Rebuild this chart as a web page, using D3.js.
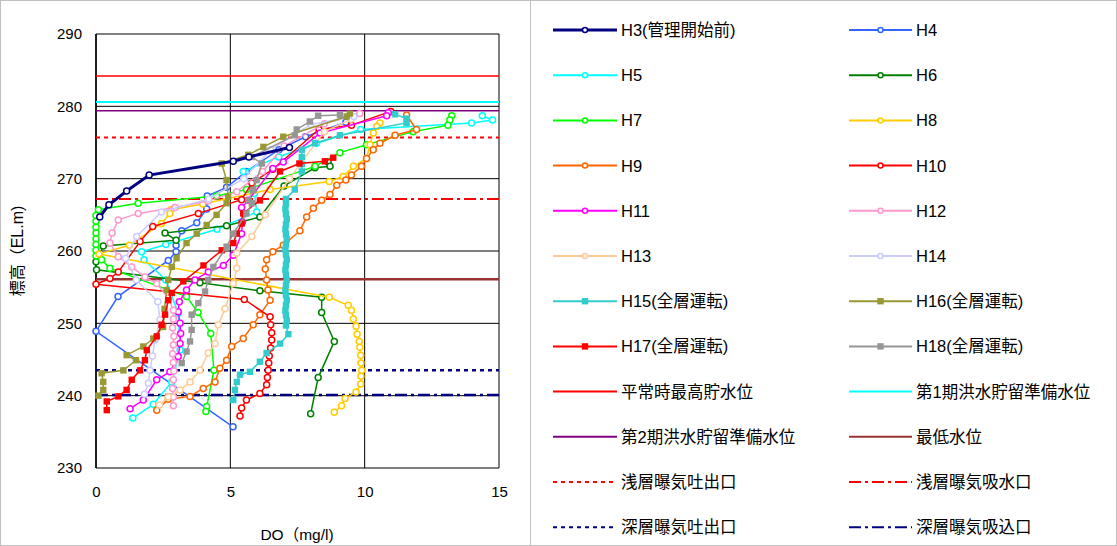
<!DOCTYPE html>
<html>
<head>
<meta charset="utf-8">
<script src="https://cdn.jsdelivr.net/npm/d3@7"></script>
<style>
  body { margin: 0; background: #fff; }
  text { font-family: "Liberation Sans", "Noto Sans CJK JP", sans-serif; fill: #000; }
</style>
</head>
<body>
<div id="chart"></div>
<script>
// ---- data: DO (mg/l), elevation (EL.m) ----
var H3 = [[7.2,274.3],[5.69,273.0],[5.11,272.4],[1.98,270.5],[1.14,268.3],[0.48,266.4],[0.14,264.7]];
var H4 = [[9.3,277.8],[7.8,275.8],[6.81,274.0],[5.6,271.0],[4.86,268.8],[4.14,267.6],[4.12,265.8],[3.75,263.9],[3.19,262.8],[2.98,260.8],[2.98,259.9],[2.69,258.7],[0.82,253.7],[0.0,248.9],[5.1,235.7]];
var H5 = [[14.38,278.7],[14.76,278.1],[13.98,277.7],[9.85,276.8],[8.21,274.9],[6.8,273.0],[5.48,271.0],[5.9,268.0],[5.98,265.4],[4.5,263.0],[2.6,260.9],[1.7,259.9],[1.79,258.8],[2.6,256.0],[3.06,251.4],[3.13,246.3],[2.82,241.9],[2.13,238.8],[1.37,236.9]];
var H6 = [[8.64,272.3],[8.71,271.7],[8.15,271.5],[7.0,269.0],[6.1,264.7],[4.86,263.5],[2.57,262.5],[2.98,261.5],[0.27,260.7],[0.0,258.5],[0.02,257.4],[3.87,255.6],[6.1,254.5],[8.4,253.6],[8.4,251.5],[8.87,247.5],[8.27,242.5],[7.99,237.5]];
var H7 = [[13.24,278.7],[13.17,278.1],[13.1,277.4],[11.8,276.5],[10.07,274.7],[9.08,273.6],[8.15,271.7],[5.6,268.5],[4.49,267.6],[1.57,266.6],[0.09,265.7],[0.0,264.9],[0.0,264.1],[0.0,263.3],[0.0,262.5],[0.0,261.7],[0.0,260.9],[0.0,260.1],[0.0,259.3],[0.21,258.8],[0.52,257.6],[3.37,253.7],[3.8,251.5],[4.27,248.6],[4.39,243.5],[4.12,238.5],[4.09,237.8]];
var H8 = [[10.57,277.7],[10.45,277.2],[10.32,276.3],[10.2,274.7],[10.07,272.8],[9.58,271.7],[9.2,270.3],[8.68,269.6],[6.48,268.5],[3.97,266.5],[2.78,265.7],[2.75,265.2],[2.44,263.8],[1.24,260.8],[0.11,259.6],[8.68,253.6],[9.39,252.5],[9.51,251.8],[9.58,250.6],[9.68,249.6],[9.72,248.5],[9.8,247.5],[9.82,246.7],[9.85,245.6],[9.86,244.5],[9.89,243.5],[9.86,242.7],[9.85,241.6],[9.68,240.5],[9.27,239.6],[9.14,238.6],[8.87,237.7]];
var H9 = [[11.56,278.8],[11.93,276.8],[11.13,276.0],[10.57,274.9],[10.32,274.0],[10.07,272.8],[9.88,271.7],[9.51,270.5],[9.3,269.8],[8.96,269.1],[8.71,267.8],[8.4,267.0],[8.09,265.9],[7.84,264.7],[7.59,262.8],[6.97,260.8],[6.58,259.9],[6.35,258.8],[6.3,257.5],[6.35,256.0],[6.4,254.6],[6.48,253.2],[6.1,251.2],[5.85,249.8],[5.48,247.9],[5.05,246.8],[4.86,244.9],[4.61,243.8],[4.43,241.9],[3.99,241.0],[3.5,239.9],[2.69,239.5],[2.26,238.0]];
var H10 = [[10.97,279.3],[9.51,277.4],[8.3,276.8],[6.58,271.3],[5.8,269.4],[5.42,267.1],[3.81,265.2],[2.11,263.4],[1.64,261.3],[0.83,257.1],[0.52,256.2],[0.0,255.4],[5.52,253.3],[6.48,250.9],[6.5,249.8],[6.54,248.7],[6.54,247.7],[6.5,246.6],[6.45,245.5],[6.43,244.5],[6.41,243.5],[6.38,242.5],[6.35,241.5],[6.1,240.3],[5.6,239.4],[5.42,238.3],[5.36,237.2]];
var H11 = [[10.88,279.1],[10.82,278.7],[8.34,276.3],[6.97,272.3],[6.58,271.4],[5.67,267.0],[5.42,266.0],[5.45,264.0],[5.42,262.4],[5.11,259.4],[4.74,258.0],[4.18,257.1],[3.68,256.0],[3.37,254.6],[3.1,253.0],[3.06,251.6],[3.13,250.0],[3.15,248.6],[3.13,247.2],[3.06,245.4],[2.75,243.3],[2.26,242.2],[1.76,239.4],[1.27,238.2]];
var H12 = [[9.82,279.0],[8.5,277.6],[7.0,274.5],[6.2,271.0],[5.24,268.2],[4.18,266.9],[2.94,266.0],[1.57,265.2],[0.83,264.3],[0.6,262.5],[0.52,261.1],[0.83,259.2],[1.33,257.8],[1.82,256.4],[2.26,255.5],[2.7,253.5],[2.88,251.8],[2.88,250.6],[2.85,249.4],[2.9,248.2],[2.88,247.0],[2.85,245.8],[2.88,244.6],[2.9,243.4],[2.88,242.2],[2.85,241.0],[2.88,239.8],[2.88,238.6]];
var H13 = [[9.5,278.2],[8.5,276.5],[7.2,270.0],[6.3,265.0],[5.8,262.0],[5.24,259.7],[5.24,257.6],[5.11,255.5],[4.8,252.0],[4.55,249.8],[4.43,247.2],[4.18,245.9],[3.87,243.5],[3.5,241.9],[3.13,240.8],[2.69,239.8],[2.36,238.7]];
var H14 = [[9.6,278.6],[8.0,277.5],[6.5,274.0],[5.5,270.0],[4.2,267.2],[2.44,265.4],[1.51,262.0],[1.1,259.0],[1.5,256.0],[2.3,253.0],[2.38,250.5],[2.2,247.7],[2.1,245.5],[2.01,243.5],[1.95,241.7],[1.8,240.2]];
var H15 = [[11.13,278.9],[11.56,278.3],[11.56,277.7],[9.08,276.0],[8.15,274.9],[7.66,274.0],[7.66,273.0],[7.66,272.0],[7.66,271.0],[7.4,268.5],[7.07,267.2],[7.07,266.5],[7.05,265.8],[7.07,265.1],[7.1,264.4],[7.07,263.7],[7.05,263.0],[7.07,262.3],[7.1,261.6],[7.07,260.9],[7.05,260.2],[7.07,259.5],[7.1,258.8],[7.07,258.1],[7.05,257.4],[7.07,256.7],[7.1,256.0],[7.07,255.3],[7.05,254.6],[7.07,253.9],[7.1,253.2],[7.07,252.5],[7.05,251.8],[7.07,251.1],[7.1,250.4],[7.07,249.7],[7.16,248.5],[6.85,247.2],[6.35,245.9],[6.1,244.7],[5.73,243.3],[5.36,242.9],[5.24,241.9],[5.17,240.8],[5.11,239.4]];
var H16 = [[9.45,279.0],[9.33,278.6],[6.97,275.8],[6.23,274.4],[5.67,273.3],[4.68,272.1],[4.86,269.8],[4.92,267.5],[4.86,266.6],[4.49,265.0],[4.12,263.6],[3.75,262.4],[3.37,261.1],[3.0,259.0],[2.82,257.8],[2.69,256.0],[2.63,254.6],[2.55,252.0],[2.5,249.5],[2.13,247.9],[1.76,246.8],[1.14,245.6],[1.49,244.9],[1.02,243.5],[0.21,243.1],[0.27,241.9],[0.27,240.8],[0.09,240.0]];
var H17 = [[8.83,272.9],[8.52,272.4],[7.57,272.1],[6.85,271.0],[6.1,267.0],[5.48,265.2],[5.42,263.8],[5.24,262.4],[5.11,261.1],[4.68,260.1],[4.0,258.0],[3.25,255.8],[2.82,254.2],[2.69,253.2],[2.57,251.2],[2.44,249.8],[2.26,248.2],[1.89,246.3],[1.82,244.9],[1.64,243.5],[1.33,242.2],[1.14,240.8],[0.83,239.9],[0.4,239.2],[0.4,238.0]];
var H18 = [[9.08,278.8],[8.27,278.7],[7.96,277.9],[7.47,276.8],[7.4,276.0],[5.8,273.0],[6.17,272.1],[5.98,269.8],[5.85,268.4],[5.67,267.0],[5.8,266.6],[5.6,265.2],[5.11,262.4],[4.86,260.6],[4.37,257.8],[4.18,256.0],[4.06,254.4],[3.81,252.8],[3.56,251.2],[3.56,249.1],[3.5,247.5],[3.37,246.1],[3.19,244.5]];

// reference levels (EL.m)
var levelNames = ["平常時最高貯水位", "第1期洪水貯留準備水位", "第2期洪水貯留準備水位", "最低水位",
                  "浅層曝気吐出口", "浅層曝気吸水口", "深層曝気吐出口", "深層曝気吸込口"];
var levelValues = [284.2, 280.6, 279.4, 256.1, 275.7, 267.2, 243.5, 240.1];

var xTicks = [0, 5, 10, 15];
var yTicks = [230, 240, 250, 260, 270, 280, 290];

// ---- styles ----
var seriesList = [
    { name: "H3(管理開始前)", data: H3, color: "#000080", marker: "circle", width: 3 },
    { name: "H4", data: H4, color: "#3366FF", marker: "circle" },
    { name: "H5", data: H5, color: "#00FFFF", marker: "circle" },
    { name: "H6", data: H6, color: "#008000", marker: "circle" },
    { name: "H7", data: H7, color: "#00FF00", marker: "circle" },
    { name: "H8", data: H8, color: "#FFCC00", marker: "circle" },
    { name: "H9", data: H9, color: "#FF6600", marker: "circle" },
    { name: "H10", data: H10, color: "#FF0000", marker: "circle" },
    { name: "H11", data: H11, color: "#FF00FF", marker: "circle" },
    { name: "H12", data: H12, color: "#FF99CC", marker: "circle" },
    { name: "H13", data: H13, color: "#FFCC99", marker: "circle" },
    { name: "H14", data: H14, color: "#CCCCFF", marker: "circle" },
    { name: "H15(全層運転)", data: H15, color: "#33CCCC", marker: "square" },
    { name: "H16(全層運転)", data: H16, color: "#999933", marker: "square" },
    { name: "H17(全層運転)", data: H17, color: "#FF0000", marker: "square" },
    { name: "H18(全層運転)", data: H18, color: "#969696", marker: "square" }
];

var levelStyles = [
    { color: "#FF0000", width: 1.5, dash: null },
    { color: "#00FFFF", width: 2, dash: null },
    { color: "#800080", width: 1.5, dash: null },
    { color: "#993333", width: 2.5, dash: null },
    { color: "#FF0000", width: 2, dash: "4,4" },
    { color: "#FF0000", width: 2, dash: "12,4,3,4" },
    { color: "#000080", width: 2.5, dash: "4,4" },
    { color: "#000080", width: 2.5, dash: "12,4,3,4" }
];

var svg = d3.select("#chart").append("svg")
    .attr("width", 1117)
    .attr("height", 546);

// outer frame and legend separator
svg.append("rect")
    .attr("x", 0.5).attr("y", 0.5)
    .attr("width", 1116).attr("height", 545)
    .attr("fill", "none").attr("stroke", "#bfbfbf");
svg.append("line")
    .attr("x1", 530.5).attr("x2", 530.5)
    .attr("y1", 0).attr("y2", 546)
    .attr("stroke", "#bfbfbf");

var xScale = d3.scaleLinear().domain([0, 15]).range([96, 499]);
var yScale = d3.scaleLinear().domain([230, 290]).range([468, 34]);

// grid
var plot = svg.append("g");
plot.selectAll(".vgrid")
    .data(xTicks)
    .enter().append("line")
    .attr("x1", function(d) { return xScale(d); })
    .attr("x2", function(d) { return xScale(d); })
    .attr("y1", yScale(290)).attr("y2", yScale(230))
    .attr("stroke", "#000").attr("stroke-width", 1);
plot.selectAll(".hgrid")
    .data(yTicks)
    .enter().append("line")
    .attr("x1", xScale(0)).attr("x2", xScale(15))
    .attr("y1", function(d) { return yScale(d); })
    .attr("y2", function(d) { return yScale(d); })
    .attr("stroke", "#000").attr("stroke-width", 1);

// axes (labels only, lines come from the grid)
var xAxis = plot.append("g")
    .attr("transform", "translate(0," + yScale(230) + ")")
    .call(d3.axisBottom(xScale).tickValues(xTicks).tickSize(0).tickPadding(18));
var yAxis = plot.append("g")
    .attr("transform", "translate(" + xScale(0) + ",0)")
    .call(d3.axisLeft(yScale).tickValues(yTicks).tickSize(0).tickPadding(14));
[xAxis, yAxis].forEach(function(a) {
    a.select(".domain").remove();
    a.selectAll("text")
        .style("font-size", "15px")
        .style("font-family", "'Liberation Sans', sans-serif")
        .attr("fill", "#000");
});

plot.append("line")
    .attr("x1", xScale(0)).attr("x2", xScale(0))
    .attr("y1", yScale(290)).attr("y2", yScale(230))
    .attr("stroke", "#000").attr("stroke-width", 1.5);

// axis titles
svg.append("text")
    .attr("x", 297).attr("y", 540)
    .attr("text-anchor", "middle")
    .style("font-size", "15.5px")
    .text("DO（mg/l)");
svg.append("text")
    .attr("transform", "translate(23,251)rotate(-90)")
    .attr("text-anchor", "middle")
    .style("font-size", "16px")
    .text("標高（EL.m)");

// reference levels
plot.selectAll(".level")
    .data(levelValues)
    .enter().append("line")
    .attr("x1", xScale(0)).attr("x2", xScale(15))
    .attr("y1", function(d) { return yScale(d); })
    .attr("y2", function(d) { return yScale(d); })
    .attr("stroke", function(d, i) { return levelStyles[i].color; })
    .attr("stroke-width", function(d, i) { return levelStyles[i].width; })
    .attr("stroke-dasharray", function(d, i) { return levelStyles[i].dash; });

// series, H3 drawn last so it sits on top
var line = d3.line()
    .x(function(d) { return xScale(d[0]); })
    .y(function(d) { return yScale(d[1]); });

function drawMarkers(g, s, pts, r) {
    if (s.marker === "circle") {
        g.selectAll("circle").data(pts).enter().append("circle")
            .attr("cx", function(d) { return xScale(d[0]); })
            .attr("cy", function(d) { return yScale(d[1]); })
            .attr("r", r)
            .attr("fill", "#fff")
            .attr("stroke", s.color)
            .attr("stroke-width", 1.5);
    } else {
        g.selectAll("rect").data(pts).enter().append("rect")
            .attr("x", function(d) { return xScale(d[0]) - r; })
            .attr("y", function(d) { return yScale(d[1]) - r; })
            .attr("width", 2 * r).attr("height", 2 * r)
            .attr("fill", s.color);
    }
}

var drawOrder = seriesList.slice(1).concat([seriesList[0]]);
drawOrder.forEach(function(s) {
    var g = plot.append("g");
    g.append("path")
        .datum(s.data)
        .attr("d", line)
        .attr("fill", "none")
        .attr("stroke", s.color)
        .attr("stroke-width", s.width || 1.5);
    drawMarkers(g, s, s.data, s.marker === "circle" ? 3 : 3.2);
});

// legend: two columns, twelve rows
var legendItems = [];
seriesList.forEach(function(s) {
    legendItems.push({ name: s.name, color: s.color, marker: s.marker, width: s.width || 2, dash: null });
});
levelNames.forEach(function(n, i) {
    legendItems.push({ name: n, color: levelStyles[i].color, marker: null, width: 2, dash: levelStyles[i].dash });
});

var legend = svg.append("g");
legendItems.forEach(function(it, i) {
    var col = i % 2, row = Math.floor(i / 2);
    var x0 = col === 0 ? 553 : 849;
    var x1 = col === 0 ? 617 : 912;
    var y = 30 + row * 45.2;
    var g = legend.append("g");
    g.append("line")
        .attr("x1", x0).attr("x2", x1)
        .attr("y1", y).attr("y2", y)
        .attr("stroke", it.color)
        .attr("stroke-width", it.width)
        .attr("stroke-dasharray", it.dash);
    if (it.marker) {
        drawMarkers(g, it, [[xScale.invert((x0 + x1) / 2), yScale.invert(y)]], it.marker === "circle" ? 2.5 : 3.2);
    }
    g.append("text")
        .attr("x", x1 + 4).attr("y", y + 6)
        .style("font-size", "16.5px")
        .text(it.name);
});
</script>
</body>
</html>
